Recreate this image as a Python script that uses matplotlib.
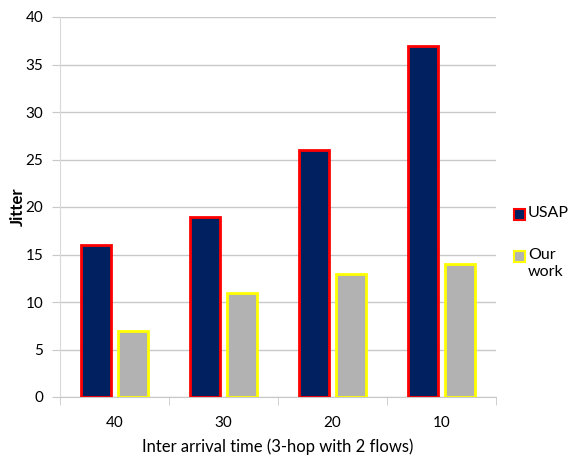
import numpy as np
import matplotlib.pyplot as plt
from matplotlib.patches import Rectangle

plt.rcParams['font.family'] = ['Lato', 'DejaVu Sans']

categories = ["40", "30", "20", "10"]
usap = [16, 19, 26, 37]
our_work = [7, 11, 13, 14]
series_names = ["USAP", "Our\nwork"]
face_colors = ["#002060", "#b2b2b2"]
edge_colors = ["#ff0000", "#ffff00"]

W, H = 572, 462
fig = plt.figure(figsize=(W / 100, H / 100), dpi=100)
ax = fig.add_axes([60 / W, 1 - 397 / H, 436 / W, 380 / H])

x = np.arange(len(categories))
w = 0.28
ax.bar(x - 0.17, usap, w, color=face_colors[0], edgecolor=edge_colors[0], linewidth=2, zorder=3)
ax.bar(x + 0.17, our_work, w, color=face_colors[1], edgecolor=edge_colors[1], linewidth=2, zorder=3)

ax.set_xlim(-0.5, 3.5)
ax.set_ylim(0, 40)
ax.set_yticks(range(0, 41, 5))
ax.set_xticks(x)
ax.set_xticklabels(categories)
ax.set_xticks(np.arange(-0.5, 4, 1), minor=True)
ax.tick_params(axis="x", which="major", length=0, pad=14, labelsize=11)
ax.tick_params(axis="x", which="minor", length=6, color="#c8c8c8")
ax.tick_params(axis="y", length=6, color="#c8c8c8", labelsize=11, pad=6)
ax.grid(axis="y", color="#c8c8c8", linewidth=1, zorder=0)

for s in ["top", "right"]:
    ax.spines[s].set_visible(False)
ax.spines["left"].set_color("#d9d9d9")
ax.spines["bottom"].set_color("#c8c8c8")

ax.set_ylabel("Jitter", fontsize=12, fontweight="bold")
ax.yaxis.set_label_coords(-0.078, 0.5)
ax.set_xlabel("Inter arrival time (3-hop with 2 flows)", fontsize=12)
ax.xaxis.set_label_coords(0.5, -0.108)

# legend drawn by hand so the square sits on the first line of "Our work"
for i, (name, fc, ec) in enumerate(zip(series_names, face_colors, edge_colors)):
    top = 209 + i * 42
    fig.add_artist(Rectangle((514 / W, 1 - (top + 11) / H), 11 / W, 11 / H,
                             transform=fig.transFigure, facecolor=fc, edgecolor=ec, linewidth=1.5))
    fig.text(528 / W, 1 - (top - 3) / H, name, ha="left", va="top", fontsize=11.5, linespacing=1.3)

fig.savefig("out.png", dpi=100)
